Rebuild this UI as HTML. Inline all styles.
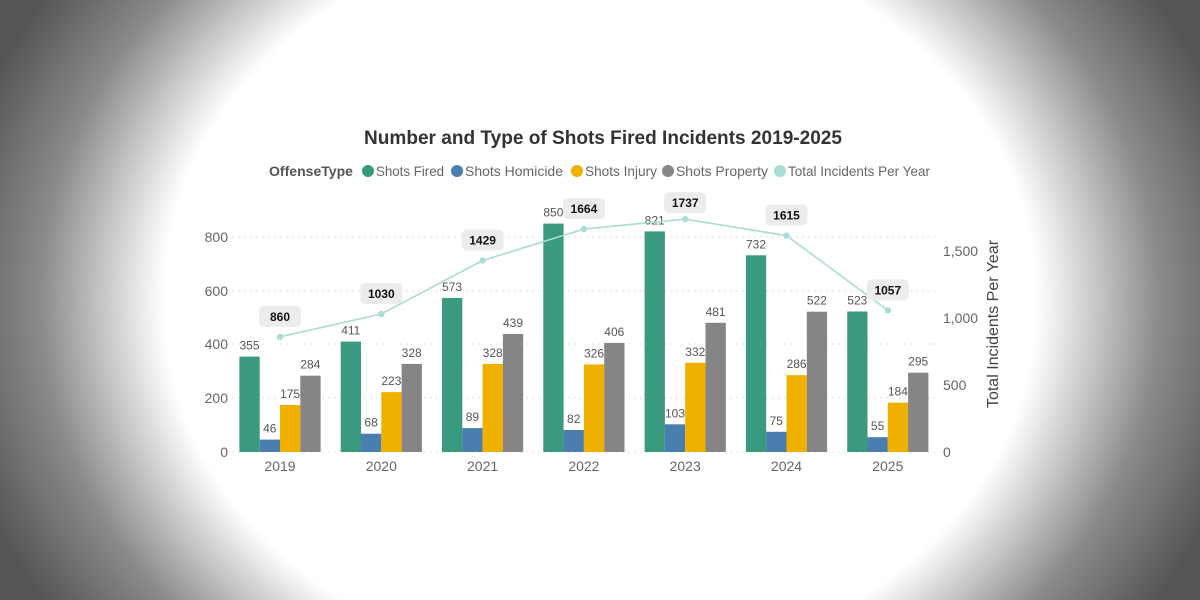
<!DOCTYPE html>
<html><head><meta charset="utf-8"><style>
html,body{margin:0;padding:0;width:1200px;height:600px;overflow:hidden}
body{background:radial-gradient(ellipse 590px 500px at 600px 300px,#fff 74%,#8a8a8a 95%,#555 112%)}
svg{position:absolute;left:0;top:0;font-family:"Liberation Sans",sans-serif}
</style></head><body>
<svg width="1200" height="600" viewBox="0 0 1200 600">
<text x="603" y="144" text-anchor="middle" font-size="19" font-weight="bold" fill="#333" textLength="478" lengthAdjust="spacingAndGlyphs">Number and Type of Shots Fired Incidents 2019-2025</text>
<g font-size="14" fill="#666">
<text x="269" y="176" font-weight="bold" fill="#555" textLength="84" lengthAdjust="spacingAndGlyphs">OffenseType</text>
<circle cx="368" cy="171" r="6" fill="#3a9a80"/><text x="376" y="176" textLength="68" lengthAdjust="spacingAndGlyphs">Shots Fired</text>
<circle cx="457" cy="171" r="6" fill="#4a7eae"/><text x="465" y="176" textLength="98" lengthAdjust="spacingAndGlyphs">Shots Homicide</text>
<circle cx="577" cy="171" r="6" fill="#f0b000"/><text x="585" y="176" textLength="72" lengthAdjust="spacingAndGlyphs">Shots Injury</text>
<circle cx="668" cy="171" r="6" fill="#858585"/><text x="676" y="176" textLength="92" lengthAdjust="spacingAndGlyphs">Shots Property</text>
<circle cx="780" cy="171" r="6" fill="#a8dcd4"/><text x="788" y="176" textLength="142" lengthAdjust="spacingAndGlyphs">Total Incidents Per Year</text>
</g>
<g stroke="#ddd" stroke-dasharray="2,4" stroke-width="1">
<line x1="232" y1="398" x2="935" y2="398"/><line x1="232" y1="344" x2="935" y2="344"/>
<line x1="232" y1="291" x2="935" y2="291"/><line x1="232" y1="237" x2="935" y2="237"/>
<line x1="232" y1="452" x2="935" y2="452"/>
</g>
<g font-size="14" fill="#666" text-anchor="end">
<text x="228" y="457">0</text><text x="228" y="403">200</text><text x="228" y="349">400</text><text x="228" y="296">600</text><text x="228" y="242">800</text>
</g>
<g font-size="14" fill="#666">
<text x="943" y="457">0</text><text x="943" y="390">500</text><text x="943" y="323">1,000</text><text x="943" y="256">1,500</text>
</g>
<text transform="translate(998,324) rotate(-90)" text-anchor="middle" font-size="16" fill="#444">Total Incidents Per Year</text>

<g>
<rect x="239.4" y="356.6" width="20.3" height="95.4" fill="#3a9a80"/>
<rect x="259.7" y="439.6" width="20.3" height="12.4" fill="#4a7eae"/>
<rect x="280" y="405" width="20.3" height="47" fill="#f0b000"/>
<rect x="300.3" y="375.7" width="20.3" height="76.3" fill="#858585"/>
<rect x="340.7" y="341.6" width="20.3" height="110.4" fill="#3a9a80"/>
<rect x="361" y="433.7" width="20.3" height="18.3" fill="#4a7eae"/>
<rect x="381.3" y="392.1" width="20.3" height="59.9" fill="#f0b000"/>
<rect x="401.6" y="363.9" width="20.3" height="88.1" fill="#858585"/>
<rect x="442" y="298" width="20.3" height="154" fill="#3a9a80"/>
<rect x="462.3" y="428.1" width="20.3" height="23.9" fill="#4a7eae"/>
<rect x="482.6" y="363.9" width="20.3" height="88.1" fill="#f0b000"/>
<rect x="502.9" y="334" width="20.3" height="118" fill="#858585"/>
<rect x="543.3" y="223.6" width="20.3" height="228.4" fill="#3a9a80"/>
<rect x="563.6" y="430" width="20.3" height="22" fill="#4a7eae"/>
<rect x="583.9" y="364.4" width="20.3" height="87.6" fill="#f0b000"/>
<rect x="604.2" y="342.9" width="20.3" height="109.1" fill="#858585"/>
<rect x="644.6" y="231.4" width="20.3" height="220.6" fill="#3a9a80"/>
<rect x="664.9" y="424.3" width="20.3" height="27.7" fill="#4a7eae"/>
<rect x="685.2" y="362.8" width="20.3" height="89.2" fill="#f0b000"/>
<rect x="705.5" y="322.8" width="20.3" height="129.2" fill="#858585"/>
<rect x="745.9" y="255.3" width="20.3" height="196.7" fill="#3a9a80"/>
<rect x="766.2" y="431.8" width="20.3" height="20.2" fill="#4a7eae"/>
<rect x="786.5" y="375.2" width="20.3" height="76.8" fill="#f0b000"/>
<rect x="806.8" y="311.7" width="20.3" height="140.3" fill="#858585"/>
<rect x="847.2" y="311.5" width="20.3" height="140.5" fill="#3a9a80"/>
<rect x="867.5" y="437.2" width="20.3" height="14.8" fill="#4a7eae"/>
<rect x="887.8" y="402.6" width="20.3" height="49.4" fill="#f0b000"/>
<rect x="908.1" y="372.7" width="20.3" height="79.3" fill="#858585"/>
</g>
<g font-size="12" fill="#555" text-anchor="middle">
<text x="249.5" y="349.6">355</text><text x="269.8" y="432.6">46</text><text x="290.1" y="398">175</text><text x="310.4" y="368.7">284</text>
<text x="350.8" y="334.6">411</text><text x="371.1" y="426.7">68</text><text x="391.4" y="385.1">223</text><text x="411.7" y="356.9">328</text>
<text x="452.1" y="291">573</text><text x="472.4" y="421.1">89</text><text x="492.7" y="356.9">328</text><text x="513" y="327">439</text>
<text x="553.4" y="216.6">850</text><text x="573.7" y="423">82</text><text x="594" y="357.4">326</text><text x="614.3" y="335.9">406</text>
<text x="654.7" y="224.4">821</text><text x="675" y="417.3">103</text><text x="695.3" y="355.8">332</text><text x="715.6" y="315.8">481</text>
<text x="756" y="248.3">732</text><text x="776.3" y="424.8">75</text><text x="796.6" y="368.2">286</text><text x="816.9" y="304.7">522</text>
<text x="857.3" y="304.5">523</text><text x="877.6" y="430.2">55</text><text x="897.9" y="395.6">184</text><text x="918.2" y="365.7">295</text>
</g>
<g font-size="14" fill="#666" text-anchor="middle">
<text x="280" y="471">2019</text><text x="381.3" y="471">2020</text><text x="482.6" y="471">2021</text><text x="583.9" y="471">2022</text><text x="685.2" y="471">2023</text><text x="786.5" y="471">2024</text><text x="887.8" y="471">2025</text>
</g>
<polyline fill="none" stroke="#a8dcd4" stroke-width="1.6" points="280,336.8 381.3,314 482.6,260.5 583.9,229 685.2,219.2 786.5,235.6 887.8,310.4"/>
<g fill="#a8dcd4">
<circle cx="280" cy="336.8" r="3.2"/><circle cx="381.3" cy="314" r="3.2"/><circle cx="482.6" cy="260.5" r="3.2"/><circle cx="583.9" cy="229" r="3.2"/><circle cx="685.2" cy="219.2" r="3.2"/><circle cx="786.5" cy="235.6" r="3.2"/><circle cx="887.8" cy="310.4" r="3.2"/>
</g>
<g fill="#ececec">
<rect x="259" y="305.8" width="42" height="21" rx="5"/><rect x="360.3" y="283" width="42" height="21" rx="5"/><rect x="461.6" y="229.5" width="42" height="21" rx="5"/><rect x="562.9" y="198" width="42" height="21" rx="5"/><rect x="664.2" y="192.2" width="42" height="21" rx="5"/><rect x="765.5" y="204.6" width="42" height="21" rx="5"/><rect x="866.8" y="279.4" width="42" height="21" rx="5"/>
</g>
<g font-size="12" font-weight="bold" fill="#111" text-anchor="middle">
<text x="280" y="320.8">860</text><text x="381.3" y="298">1030</text><text x="482.6" y="244.5">1429</text><text x="583.9" y="213">1664</text><text x="685.2" y="207.2">1737</text><text x="786.5" y="219.6">1615</text><text x="887.8" y="294.4">1057</text>
</g>
</svg>
</body></html>
